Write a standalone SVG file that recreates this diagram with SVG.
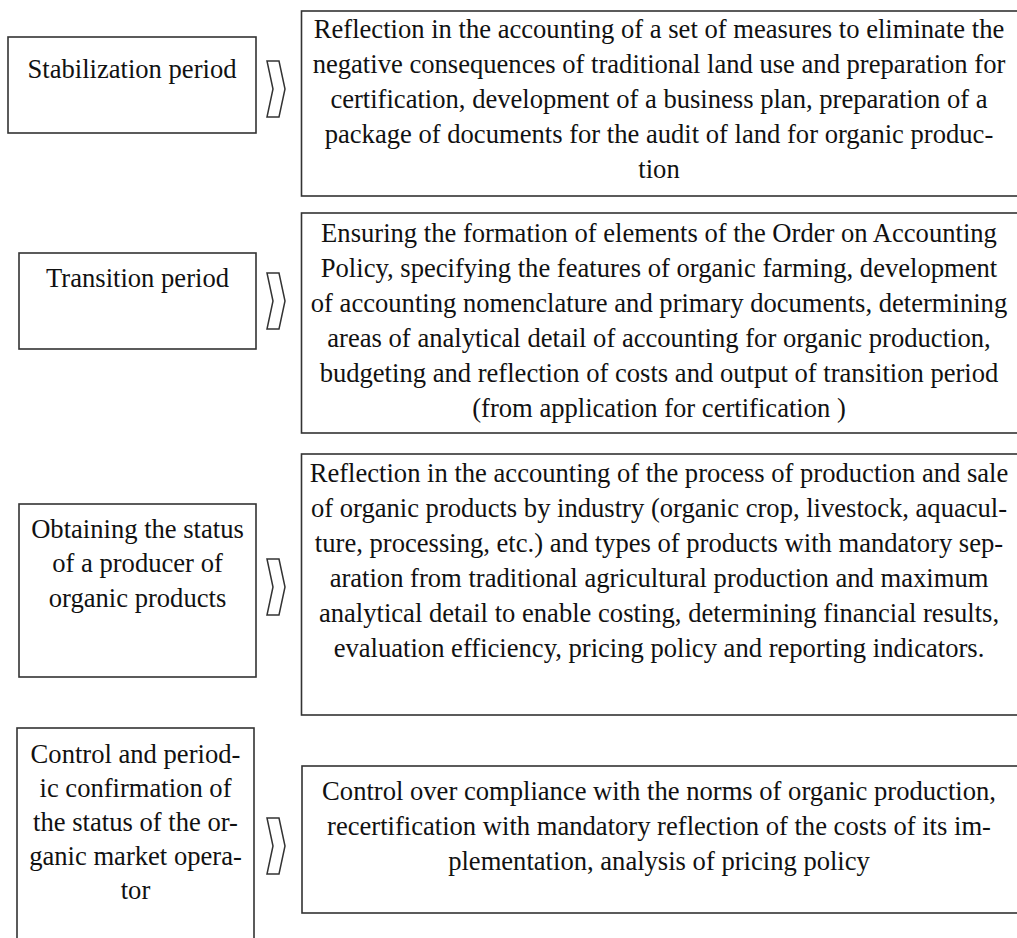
<svg xmlns="http://www.w3.org/2000/svg" width="1017" height="938" viewBox="0 0 1017 938">
<defs>
<style>
.box{fill:#fff;stroke:#333;stroke-width:1.6}
.chev{fill:#fff;stroke:#333;stroke-width:1.5;stroke-linejoin:miter}
text{font-family:"Liberation Serif","Times New Roman",serif;font-size:26.6px;fill:#111;text-anchor:middle}
</style>
<path id="chv" d="M0,0 H12 L18,28 L12,56 H0 L6,28 Z"/>
</defs>
<rect width="1017" height="938" fill="#fff"/>
<g id="stage1">
<rect class="box" x="8" y="37" width="248" height="96"/>
<text x="132" y="78">Stabilization period</text>
</g>
<g id="desc1">
<rect class="box" x="301.5" y="11" width="730" height="185"/>
<text x="659" y="38">Reflection in the accounting of a set of measures to eliminate the</text>
<text x="659" y="73">negative consequences of traditional land use and preparation for</text>
<text x="659" y="108">certification, development of a business plan, preparation of a</text>
<text x="659" y="143">package of documents for the audit of land for organic produc-</text>
<text x="659" y="178">tion</text>
</g>
<g id="stage2">
<rect class="box" x="19" y="253" width="237" height="96"/>
<text x="137.5" y="287">Transition period</text>
</g>
<g id="desc2">
<rect class="box" x="301.5" y="213" width="730" height="220"/>
<text x="659" y="242">Ensuring the formation of elements of the Order on Accounting</text>
<text x="659" y="277">Policy, specifying the features of organic farming, development</text>
<text x="659" y="312">of accounting nomenclature and primary documents, determining</text>
<text x="659" y="347">areas of analytical detail of accounting for organic production,</text>
<text x="659" y="382">budgeting and reflection of costs and output of transition period</text>
<text x="659" y="417">(from application for certification )</text>
</g>
<g id="stage3">
<rect class="box" x="19" y="504" width="237" height="173"/>
<text x="137.5" y="538">Obtaining the status</text>
<text x="137.5" y="572">of a producer of</text>
<text x="137.5" y="607">organic products</text>
</g>
<g id="desc3">
<rect class="box" x="301.5" y="454" width="730" height="261"/>
<text x="659" y="482">Reflection in the accounting of the process of production and sale</text>
<text x="659" y="517">of organic products by industry (organic crop, livestock, aquacul-</text>
<text x="659" y="552">ture, processing, etc.) and types of products with mandatory sep-</text>
<text x="659" y="587">aration from traditional agricultural production and maximum</text>
<text x="659" y="622">analytical detail to enable costing, determining financial results,</text>
<text x="659" y="657">evaluation efficiency, pricing policy and reporting indicators.</text>
</g>
<g id="stage4">
<rect class="box" x="17" y="728" width="237" height="230"/>
<text x="135.5" y="763">Control and period-</text>
<text x="135.5" y="797">ic confirmation of</text>
<text x="135.5" y="831">the status of the or-</text>
<text x="135.5" y="865">ganic market opera-</text>
<text x="135.5" y="899">tor</text>
</g>
<g id="desc4">
<rect class="box" x="302" y="766" width="730" height="147"/>
<text x="659" y="800">Control over compliance with the norms of organic production,</text>
<text x="659" y="835">recertification with mandatory reflection of the costs of its im-</text>
<text x="659" y="870">plementation, analysis of pricing policy</text>
</g>
<g id="connectors">
<use href="#chv" class="chev" x="267" y="61"/>
<use href="#chv" class="chev" x="267" y="273"/>
<use href="#chv" class="chev" x="267" y="559"/>
<use href="#chv" class="chev" x="267" y="818"/>
</g>
</svg>
